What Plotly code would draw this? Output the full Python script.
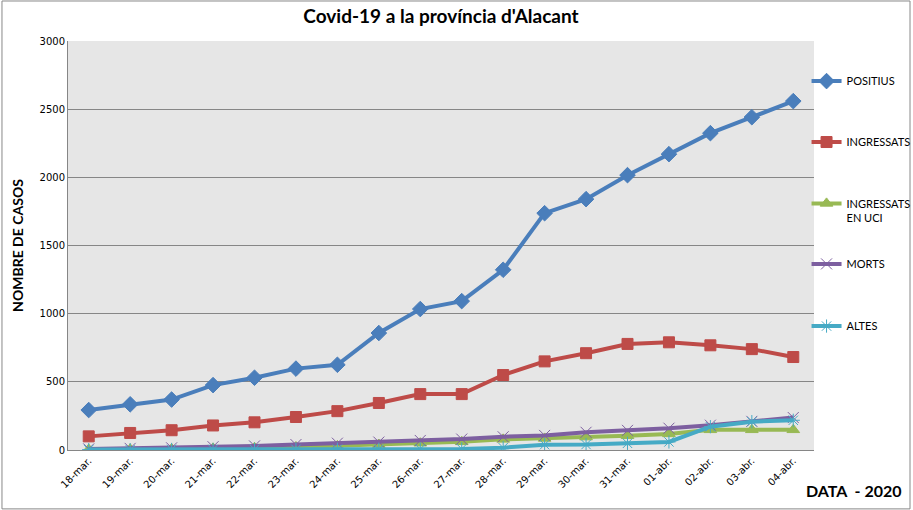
import plotly.graph_objects as go

dates = ["18-mar.", "19-mar.", "20-mar.", "21-mar.", "22-mar.", "23-mar.", "24-mar.", "25-mar.", "26-mar.",
         "27-mar.", "28-mar.", "29-mar.", "30-mar.", "31-mar.", "01-abr.", "02-abr.", "03-abr.", "04-abr."]
positius = [293, 335, 370, 476, 530, 597, 625, 858, 1034, 1092, 1322, 1737, 1840, 2016, 2170, 2324, 2441, 2559]
ingressats = [100, 125, 145, 180, 203, 242, 285, 345, 410, 410, 550, 650, 710, 778, 790, 768, 740, 682]
ingressats_uci = [4, 6, 8, 12, 16, 22, 30, 40, 50, 60, 78, 85, 95, 105, 118, 148, 148, 148]
morts = [8, 12, 16, 24, 30, 40, 50, 58, 70, 80, 97, 107, 130, 144, 160, 182, 210, 238]
altes = [3, 3, 4, 4, 5, 5, 6, 6, 7, 8, 17, 39, 40, 49, 59, 171, 208, 218]

series = [
    ("POSITIUS", positius, "#4a7ebb", "diamond", 12),
    ("INGRESSATS", ingressats, "#be4b48", "square", 11),
    ("INGRESSATS<br>EN UCI", ingressats_uci, "#98b954", "triangle-up", 11),
    ("MORTS", morts, "#7d5fa0", "x-thin-open", 11),
    ("ALTES", altes, "#46aac5", "asterisk-open", 11),
]
legend_y = [0.902, 0.753, 0.585, 0.455, 0.303]

FONT = "Lato"
TICKFONT = "DejaVu Sans"
fig = go.Figure()
legends = {}
for i, (name, vals, color, sym, size) in enumerate(series):
    lg = "legend" if i == 0 else f"legend{i + 1}"
    fig.add_trace(go.Scatter(
        x=dates, y=vals, name=name, mode="lines+markers",
        line=dict(color=color, width=4),
        marker=dict(symbol=sym, size=size, color=color, line=dict(color=color, width=1)),
        legend=lg,
    ))
    legends[lg] = dict(x=0.99, xanchor="left", y=legend_y[i], yanchor="middle",
                       bgcolor="rgba(0,0,0,0)", itemwidth=30,
                       valign="top" if i == 2 else "middle",
                       font=dict(family=FONT, size=11, color="black"))

fig.update_layout(
    width=913, height=510,
    margin=dict(l=68, r=99, t=41, b=60, autoexpand=False),
    paper_bgcolor="white",
    plot_bgcolor="#e6e6e6",
    font=dict(family=FONT, size=11, color="black"),
    title=dict(text="<b>Covid-19 a la província d'Alacant</b>", x=0.5, xref="paper",
               y=0.968, yanchor="middle", font=dict(family=FONT, size=19, color="black")),
    showlegend=True,
    xaxis=dict(type="category", tickangle=-45, showgrid=False, showline=True,
               linecolor="#868686", linewidth=1, ticks="",
               tickfont=dict(family=TICKFONT, size=10, color="black"),
               range=[-0.5, len(dates) - 0.5]),
    yaxis=dict(range=[0, 3000], dtick=500, showgrid=True, gridcolor="#868686", gridwidth=1,
               showline=True, linecolor="#868686", linewidth=1, zeroline=False, ticks="",
               tickfont=dict(family=TICKFONT, size=10, color="black"),
               title=dict(text="<b>NOMBRE DE CASOS</b>", font=dict(family=FONT, size=14, color="black"),
                          standoff=12)),
    shapes=[dict(type="rect", xref="paper", yref="paper", x0=-0.0885, x1=1.1287, y0=-0.144, y1=1.0978,
                 line=dict(color="#888888", width=1), fillcolor="rgba(0,0,0,0)", layer="below")],
    annotations=[dict(text="<b>DATA  - 2020</b>", xref="paper", yref="paper", x=1.121, y=-0.098,
                      xanchor="right", yanchor="middle", showarrow=False,
                      font=dict(family=FONT, size=16, color="black"))],
    **legends,
)

fig.write_html("out.html", config={"displayModeBar": False},
               post_script="document.body.style.margin='0';")
